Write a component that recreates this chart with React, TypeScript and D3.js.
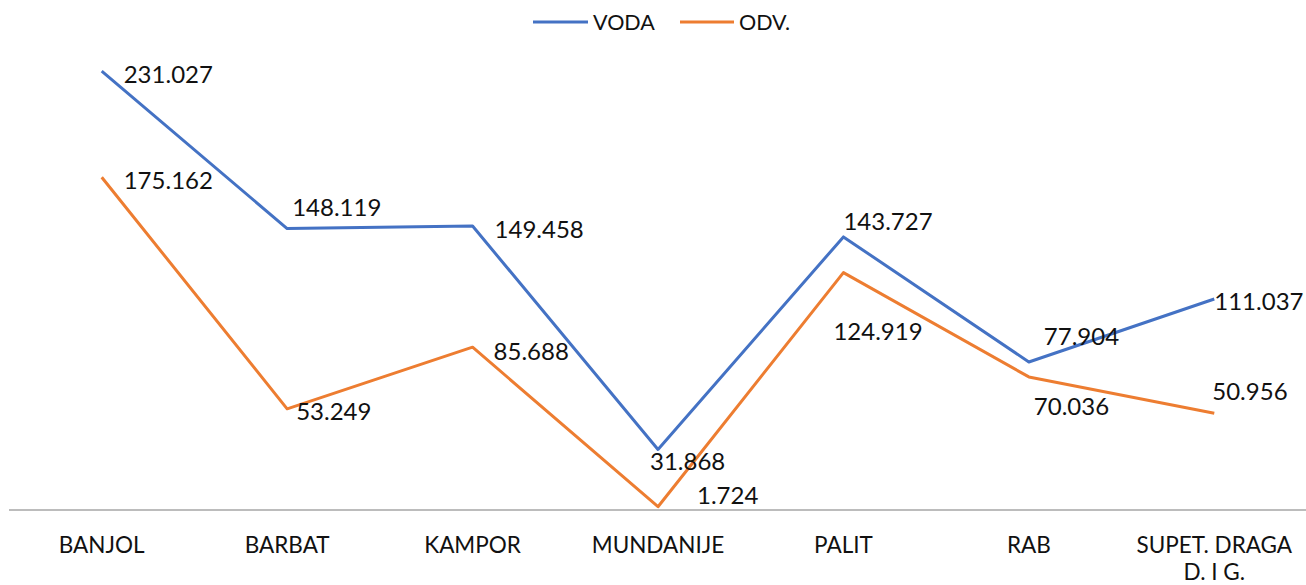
import React from 'react';
import * as d3 from 'd3';

const categories = ['BANJOL', 'BARBAT', 'KAMPOR', 'MUNDANIJE', 'PALIT', 'RAB', 'SUPET. DRAGA|D. I G.'];
const voda = [231.027, 148.119, 149.458, 31.868, 143.727, 77.904, 111.037];
const odv = [175.162, 53.249, 85.688, 1.724, 124.919, 70.036, 50.956];

// label offsets (dx, dy) relative to each point, as placed in the original
const vodaOffsets: [number, number][] = [[22, 2], [5, -22], [22, 2], [-8, 11], [0, -16], [15, -26], [0, 1]];
const odvOffsets: [number, number][] = [[22, 2], [9, 2], [21, 3], [39, -12], [-10, 58], [5, 29], [-2, -23]];

const series = [
  { name: 'VODA', values: voda, offsets: vodaOffsets, color: '#4472C4' },
  { name: 'ODV.', values: odv, offsets: odvOffsets, color: '#ED7D31' },
];

const W = 1306;
const H = 585;
const FONT = 'Lato, "Open Sans", sans-serif';

export default function App() {
  const x = d3.scalePoint<string>().domain(categories).range([9, 1307]).padding(0.5);
  const y = d3.scaleLinear().domain([0, 250]).range([510, 35]);
  const line = d3.line<number>()
    .x((_, i) => x(categories[i])!)
    .y(d => y(d));

  return (
    <svg width={W} height={H} style={{ position: 'absolute', left: 0, top: 0, background: '#fff' }} fontFamily={FONT}>
      <line x1={9} x2={1306} y1={y(0)} y2={y(0)} stroke="#a6a6a6" strokeWidth={1.5} />

      {categories.map(c => (
        <text key={c} x={x(c)} y={553} textAnchor="middle" fontSize={22.5} fill="#111">
          {c.split('|').map((part, i) => (
            <tspan key={i} x={x(c)} dy={i === 0 ? 0 : 27}>{part}</tspan>
          ))}
        </text>
      ))}

      {series.map(s => (
        <path key={s.name} d={line(s.values)!} fill="none" stroke={s.color} strokeWidth={3} strokeLinejoin="round" />
      ))}

      {series.map(s => s.values.map((v, i) => (
        <text
          key={s.name + i}
          x={x(categories[i])! + s.offsets[i][0]}
          y={y(v) + s.offsets[i][1]}
          dominantBaseline="central"
          fontSize={24}
          fill="#111"
        >
          {v.toFixed(3)}
        </text>
      )))}

      <g>
        <line x1={533} x2={588} y1={22} y2={22} stroke="#4472C4" strokeWidth={3} />
        <text x={593} y={22} dominantBaseline="central" fontSize={21.5} fill="#111">VODA</text>
        <line x1={680} x2={734} y1={22} y2={22} stroke="#ED7D31" strokeWidth={3} />
        <text x={739} y={22} dominantBaseline="central" fontSize={21.5} fill="#111">ODV.</text>
      </g>
    </svg>
  );
}
